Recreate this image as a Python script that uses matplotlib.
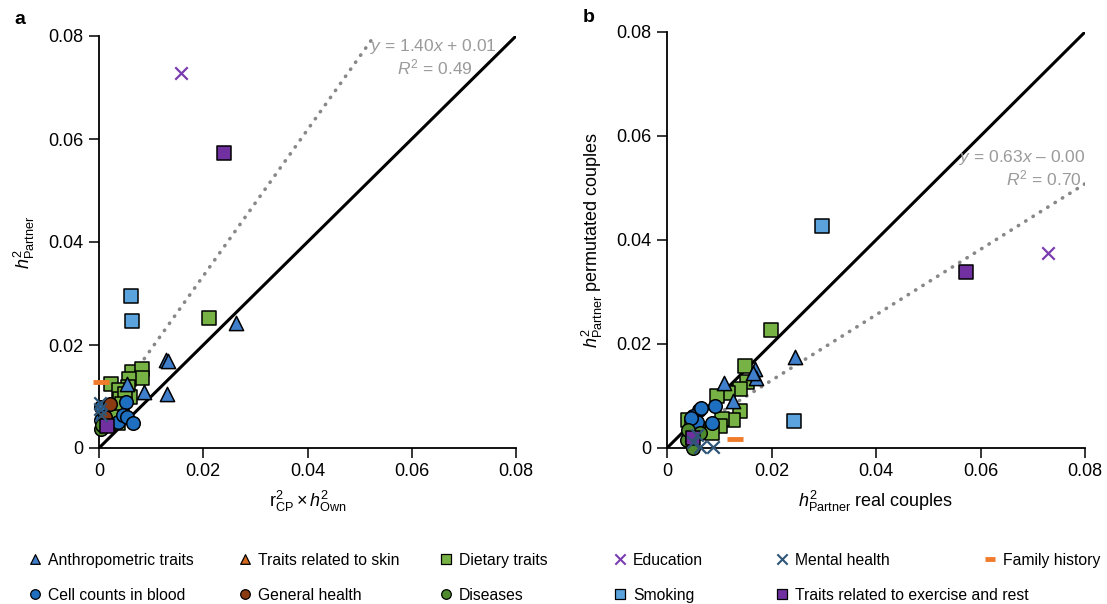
"""
Partner heritability vs. expected (a) and real vs. permuted couples (b)
"""
import matplotlib
matplotlib.use('Agg')
import matplotlib.pyplot as plt

plt.rcParams['font.family'] = ['Liberation Sans', 'DejaVu Sans']
plt.rcParams['mathtext.fontset'] = 'custom'
plt.rcParams['mathtext.rm'] = 'Liberation Sans'
plt.rcParams['mathtext.it'] = 'Liberation Sans:italic'
plt.rcParams['mathtext.bf'] = 'Liberation Sans:bold'

# ---- donnees ----
ticks = [0, 0.02, 0.04, 0.06, 0.08]
tick_labels = ['0', '0.02', '0.04', '0.06', '0.08']

# panel a : x = r2_CP * h2_Own, y = h2_Partner
a_anthro_x = [0.0263, 0.0129, 0.0132, 0.0086, 0.0130, 0.0053]
a_anthro_y = [0.0243, 0.0171, 0.0168, 0.0109, 0.0105, 0.0124]
a_diet_x = [0.0211, 0.0023, 0.0063, 0.0082, 0.0082, 0.0058, 0.0056, 0.0038,
            0.0060, 0.0040, 0.0033, 0.0036, 0.0050, 0.0045, 0.0028]
a_diet_y = [0.0252, 0.0124, 0.0148, 0.0153, 0.0136, 0.0134, 0.0118, 0.0113,
            0.0099, 0.0095, 0.0068, 0.0049, 0.0105, 0.0085, 0.0060]
a_cell_x = [0.0052, 0.0036, 0.0046, 0.0054, 0.0065, 0.0003, 0.0003]
a_cell_y = [0.0089, 0.0050, 0.0064, 0.0060, 0.0049, 0.0080, 0.0055]
a_general_x = [0.0021, 0.0012]
a_general_y = [0.0085, 0.0060]
a_disease_x = [0.0003, 0.0005]
a_disease_y = [0.0037, 0.0045]
a_educ_x = [0.0157]
a_educ_y = [0.0728]
a_mental_x = [0.0002, 0.0003, 0.0001]
a_mental_y = [0.0087, 0.0064, 0.0075]
a_family_x = [0.0003]
a_family_y = [0.0128]
a_smoking_x = [0.0061, 0.0063]
a_smoking_y = [0.0295, 0.0247]
a_exercise_x = [0.0240, 0.0015]
a_exercise_y = [0.0573, 0.0043]
fit_a = (1.42, 0.005, 0.0, 0.0527)   # pente, ordonnee, x debut, x fin

# panel b : x = h2_Partner real, y = h2_Partner permutated
b_anthro_x = [0.0245, 0.0168, 0.0170, 0.0109, 0.0126, 0.0165]
b_anthro_y = [0.0175, 0.0152, 0.0135, 0.0125, 0.0090, 0.0145]
b_diet_x = [0.0199, 0.0149, 0.0153, 0.0140, 0.0140, 0.0126, 0.0105, 0.0101,
            0.0086, 0.0117, 0.0096, 0.0040, 0.0060, 0.0048]
b_diet_y = [0.0227, 0.0158, 0.0127, 0.0113, 0.0071, 0.0054, 0.0056, 0.0042,
            0.0029, 0.0106, 0.0100, 0.0054, 0.0037, 0.0045]
b_cell_x = [0.0061, 0.0050, 0.0092, 0.0086, 0.0057, 0.0065, 0.0045]
b_cell_y = [0.0073, 0.0062, 0.0081, 0.0048, 0.0050, 0.0076, 0.0058]
b_disease_x = [0.0038, 0.0047, 0.0063, 0.0040, 0.0050]
b_disease_y = [0.0016, 0.0016, 0.0029, 0.0035, 0.0000]
b_mental_x = [0.0050, 0.0063, 0.0088, 0.0058]
b_mental_y = [0.0012, 0.0002, 0.0002, 0.0025]
b_family_x = [0.0130]
b_family_y = [0.0018]
b_educ_x = [0.0729]
b_educ_y = [0.0375]
b_smoking_x = [0.0297, 0.0244]
b_smoking_y = [0.0427, 0.0052]
b_exercise_x = [0.0572, 0.0050]
b_exercise_y = [0.0338, 0.0020]
fit_b = (0.63, 0.0004, 0.004, 0.080)

# ---- styles ----
STY = {
    'anthro':   dict(marker='^', c='#3f7fcc', ec='k', label='Anthropometric traits'),
    'skin':     dict(marker='^', c='#d2691e', ec='k', label='Traits related to skin'),
    'diet':     dict(marker='s', c='#77b244', ec='k', label='Dietary traits'),
    'educ':     dict(marker='x', c='#7a3db0', ec=None, label='Education'),
    'mental':   dict(marker='x', c='#2f5577', ec=None, label='Mental health'),
    'family':   dict(marker='_', c='#f07b2a', ec=None, label='Family history'),
    'cell':     dict(marker='o', c='#1f6fc0', ec='k', label='Cell counts in blood'),
    'general':  dict(marker='o', c='#8b3a12', ec='k', label='General health'),
    'disease':  dict(marker='o', c='#4f8a2e', ec='k', label='Diseases'),
    'smoking':  dict(marker='s', c='#5ba3dc', ec='k', label='Smoking'),
    'exercise': dict(marker='s', c='#7030a0', ec='k', label='Traits related to exercise and rest'),
}
GREY = '#9a9a9a'


def draw(ax, key, x, y, s=95):
    st = STY[key]
    if st['marker'] == 'x':
        ax.scatter(x, y, marker='x', c=st['c'], s=80, linewidths=1.6, zorder=4, clip_on=False)
    elif st['marker'] == '_':
        ax.scatter(x, y, marker='_', c=st['c'], s=130, linewidths=3.5, zorder=4, clip_on=False)
    else:
        ax.scatter(x, y, marker=st['marker'], c=st['c'], edgecolors=st['ec'], s=s,
                   linewidths=1.1, zorder=3, clip_on=False)


def style_axes(ax):
    ax.set_xlim(0, 0.08)
    ax.set_ylim(0, 0.08)
    for sp in ['top', 'right']:
        ax.spines[sp].set_visible(False)
    for sp in ['left', 'bottom']:
        ax.spines[sp].set_linewidth(1.3)
    ax.set_xticks(ticks)
    ax.set_xticklabels(tick_labels)
    ax.set_yticks(ticks)
    ax.set_yticklabels(tick_labels)
    ax.tick_params(direction='out', length=7, width=1.1, labelsize=13, pad=4)
    ax.plot([0, 0.08], [0, 0.08], color='k', lw=2.2, zorder=2)


def fit_line(ax, fit):
    slope, icpt, x0, x1 = fit
    ax.plot([x0, x1], [slope * x0 + icpt, slope * x1 + icpt], color='#888888', lw=2.6,
            linestyle=(0, (0.1, 2.3)), dash_capstyle='round', zorder=2)


fig = plt.figure(figsize=(11.07, 6.04), dpi=100)

# ---- panel a ----
ax1 = fig.add_axes([99 / 1107, 156 / 604, 417 / 1107, 412 / 604])
style_axes(ax1)
fit_line(ax1, fit_a)
draw(ax1, 'diet', a_diet_x, a_diet_y)
draw(ax1, 'anthro', a_anthro_x, a_anthro_y, s=105)
draw(ax1, 'cell', a_cell_x, a_cell_y)
draw(ax1, 'general', a_general_x, a_general_y)
draw(ax1, 'disease', a_disease_x, a_disease_y)
draw(ax1, 'smoking', a_smoking_x, a_smoking_y)
draw(ax1, 'exercise', a_exercise_x, a_exercise_y)
draw(ax1, 'educ', a_educ_x, a_educ_y)
draw(ax1, 'mental', a_mental_x, a_mental_y)
draw(ax1, 'family', a_family_x, a_family_y)
ax1.text(0.0764, 0.0779, r'$y$ = 1.40$x$ + 0.01', color=GREY, fontsize=12.5,
         ha='right', va='center')
ax1.text(0.0718, 0.0738, r'$R^2$ = 0.49', color=GREY, fontsize=12.5, ha='right', va='center')
ax1.set_xlabel(r'$\mathrm{r}^2_{\mathrm{CP}} \times h^2_{\mathrm{Own}}$', fontsize=13, labelpad=6)
ax1.set_ylabel(r'$h^2_{\mathrm{Partner}}$', fontsize=13, labelpad=8)
fig.text(14 / 1107, 1 - 20 / 604, 'a', fontsize=14, fontweight='bold', va='center')

# ---- panel b ----
ax2 = fig.add_axes([667 / 1107, 156 / 604, 418 / 1107, 416 / 604])
style_axes(ax2)
fit_line(ax2, fit_b)
draw(ax2, 'diet', b_diet_x, b_diet_y)
draw(ax2, 'anthro', b_anthro_x, b_anthro_y, s=105)
draw(ax2, 'cell', b_cell_x, b_cell_y)
draw(ax2, 'disease', b_disease_x, b_disease_y)
draw(ax2, 'smoking', b_smoking_x, b_smoking_y)
draw(ax2, 'exercise', b_exercise_x, b_exercise_y)
draw(ax2, 'educ', b_educ_x, b_educ_y)
draw(ax2, 'mental', b_mental_x, b_mental_y)
draw(ax2, 'family', b_family_x, b_family_y)
ax2.text(0.0800, 0.0558, r'$y$ = 0.63$x$ – 0.00', color=GREY, fontsize=12.5,
         ha='right', va='center')
ax2.text(0.0794, 0.0519, r'$R^2$ = 0.70', color=GREY, fontsize=12.5, ha='right', va='center')
ax2.set_xlabel(r'$h^2_{\mathrm{Partner}}$ real couples', fontsize=13, labelpad=6)
ax2.set_ylabel(r'$h^2_{\mathrm{Partner}}$ permutated couples', fontsize=13, labelpad=8)
fig.text(583 / 1107, 1 - 18 / 604, 'b', fontsize=14, fontweight='bold', va='center')

# ---- legende (coordonnees pixel) ----
axl = fig.add_axes([0, 0, 1, 80 / 604])
axl.set_xlim(0, 1107)
axl.set_ylim(604, 524)
axl.axis('off')
leg_rows = [
    [('anthro', 35), ('skin', 245), ('diet', 446), ('educ', 620), ('mental', 782), ('family', 990)],
    [('cell', 35), ('general', 245), ('disease', 446), ('smoking', 620), ('exercise', 782)],
]
for row_y, row in zip([559, 594], leg_rows):
    for key, lx in row:
        st = STY[key]
        if st['marker'] in ('x', '_'):
            axl.scatter([lx], [row_y], marker=st['marker'], c=st['c'], s=55,
                        linewidths=1.5 if st['marker'] == 'x' else 3.5)
        else:
            axl.scatter([lx], [row_y], marker=st['marker'], c=st['c'], edgecolors='k',
                        s=48, linewidths=0.9)
        axl.text(lx + 13, row_y, st['label'], fontsize=11.3, va='center_baseline', ha='left')

plt.savefig('out.png', dpi=100)
